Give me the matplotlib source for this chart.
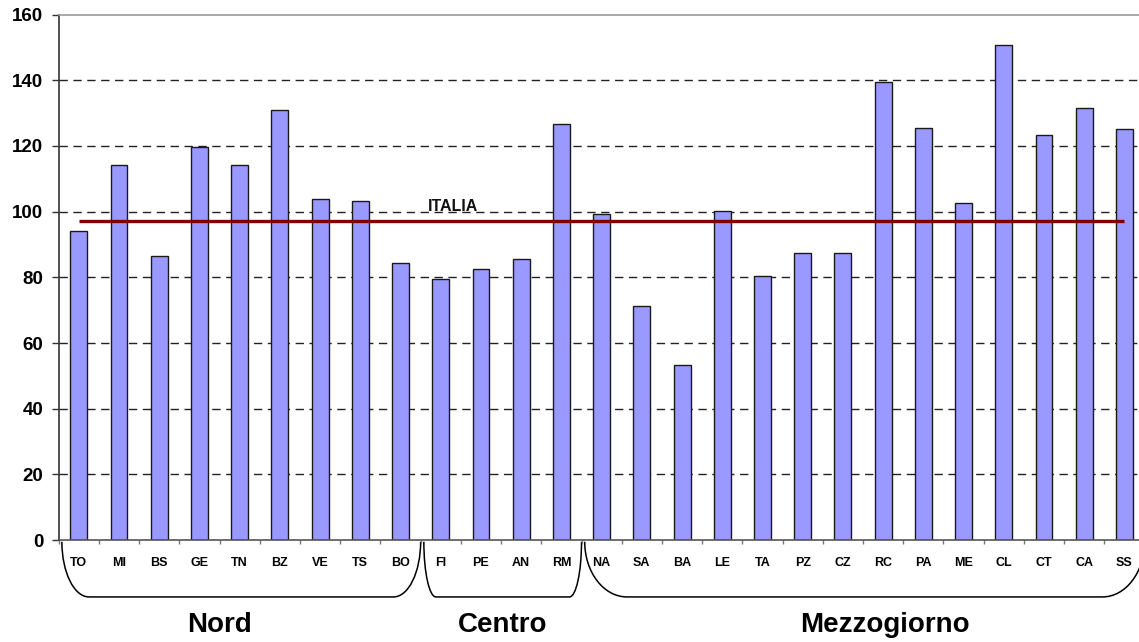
import numpy as np
from matplotlib import pyplot as plt
from matplotlib.patches import PathPatch
from matplotlib.path import Path
from matplotlib.transforms import blended_transform_factory

plt.rcParams['font.family'] = ['Liberation Sans', 'DejaVu Sans']
plt.rcParams['font.weight'] = 'bold'

CITIES = ['TO', 'MI', 'BS', 'GE', 'TN', 'BZ', 'VE', 'TS', 'BO',
          'FI', 'PE', 'AN', 'RM',
          'NA', 'SA', 'BA', 'LE', 'TA', 'PZ', 'CZ', 'RC', 'PA', 'ME',
          'CL', 'CT', 'CA', 'SS']
VALUES = [94.0, 114.2, 86.6, 119.6, 114.3, 130.8, 103.8, 103.4, 84.5,
          79.4, 82.6, 85.5, 126.8,
          99.2, 71.4, 53.4, 100.1, 80.3, 87.5, 87.4, 139.4, 125.6, 102.7,
          150.8, 123.4, 131.5, 125.1]
GROUP_NAMES = ['Nord', 'Centro', 'Mezzogiorno']
GROUP_SIZES = [9, 4, 14]
ITALIA = 97.1
Y_TICKS = list(range(0, 161, 20))

BAR_COLOR = '#9999ff'
LINE_COLOR = '#800000'
# label nudges, as placed in the original sheet
GROUP_LABEL_SHIFT = [-0.5, 0.05, 0.55]


def draw_brace(ax, x0, x1, top, bottom, curve):
    # rounded bracket under the axis: x in data, y in axes fraction
    trans = blended_transform_factory(ax.transData, ax.transAxes)
    k = 0.552
    h = top - bottom
    verts = [(x0, top),
             (x0, top - k * h), (x0 + (1 - k) * curve, bottom),
             (x0 + curve, bottom),
             (x1 - curve, bottom),
             (x1 - (1 - k) * curve, bottom), (x1, top - k * h),
             (x1, top)]
    codes = [Path.MOVETO, Path.CURVE4, Path.CURVE4, Path.CURVE4,
             Path.LINETO, Path.CURVE4, Path.CURVE4, Path.CURVE4]
    ax.add_patch(PathPatch(Path(verts, codes), fill=False, lw=1.1,
                           edgecolor='black', transform=trans,
                           clip_on=False))


fig = plt.figure(figsize=(11.39, 6.42), dpi=100)
ax = fig.add_axes([0.0515, 0.1586, 0.9534, 0.8187])

x = np.arange(len(CITIES))
ax.bar(x, VALUES, width=0.42, color=BAR_COLOR, edgecolor='#1a1a1a',
       linewidth=1.0, zorder=2)
ax.plot([x[0], x[-1]], [ITALIA, ITALIA], color=LINE_COLOR, lw=2.4,
        solid_capstyle='butt', zorder=3)
ax.text(8.67, ITALIA + 3.0, 'ITALIA', fontsize=11.5, fontweight='bold',
        ha='left', va='baseline', color='#111111', zorder=4)

ax.set_xlim(-0.5, len(CITIES) - 0.5)
ax.set_ylim(Y_TICKS[0], Y_TICKS[-1])

# grid (dashed) except the top one, which is the plot-area border
for yv in Y_TICKS[1:-1]:
    ax.axhline(yv, color='#222222', lw=1.0, ls=(0, (6, 4)), zorder=1)

for side in ['right']:
    ax.spines[side].set_visible(False)
ax.spines['top'].set_color('#999999')
ax.spines['top'].set_linewidth(1.2)
ax.spines['left'].set_color('#333333')
ax.spines['left'].set_linewidth(1.2)
ax.spines['bottom'].set_color('#555555')
ax.spines['bottom'].set_linewidth(1.2)

ax.set_yticks(Y_TICKS)
ax.set_yticklabels([str(v) for v in Y_TICKS], fontsize=13.5,
                   fontweight='bold')
ax.tick_params(axis='y', length=5, width=1, color='#333333', pad=6)

ax.set_xticks(x)
ax.set_xticklabels(CITIES, fontsize=9, fontweight='bold')
ax.tick_params(axis='x', which='major', length=0, pad=12)
ax.set_xticks(np.arange(len(CITIES) + 1) - 0.5, minor=True)
ax.tick_params(axis='x', which='minor', length=3, width=1, color='#777777')

start = 0
for name, size, shift in zip(GROUP_NAMES, GROUP_SIZES, GROUP_LABEL_SHIFT):
    lo = start - 0.5
    hi = start + size - 0.5
    draw_brace(ax, lo + 0.08, hi, -0.003, -0.108, 0.075 * (hi - lo))
    ax.text((lo + hi) / 2 + shift, -0.174, name, fontsize=20,
            fontweight='bold', ha='center', va='baseline',
            transform=blended_transform_factory(ax.transData, ax.transAxes))
    start += size

fig.savefig('out.png', dpi=100)
